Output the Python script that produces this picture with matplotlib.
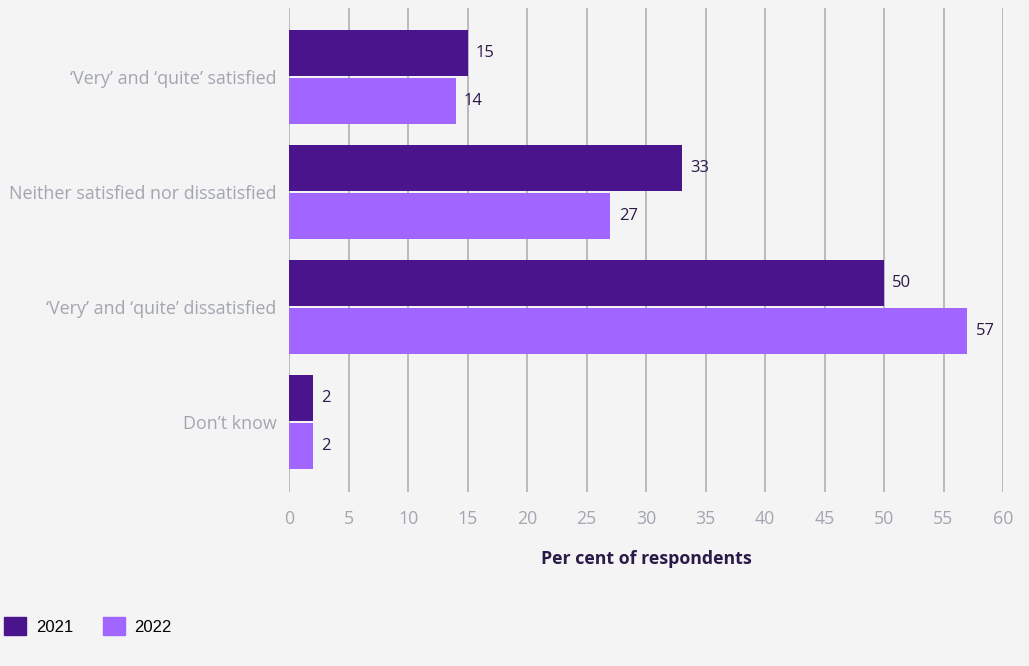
import matplotlib
matplotlib.use("Agg")
import matplotlib.pyplot as plt
import numpy as np
from matplotlib.patches import Patch

categories = ["\u2018Very\u2019 and \u2018quite\u2019 satisfied",
              "Neither satisfied nor dissatisfied",
              "\u2018Very\u2019 and \u2018quite\u2019 dissatisfied",
              "Don\u2019t know"]
series_names = ["2021", "2022"]
values_2021 = [15, 33, 50, 2]
values_2022 = [14, 27, 57, 2]
x_ticks = list(range(0, 61, 5))

BG = "#f4f4f4"
C1 = "#4a148c"
C2 = "#a066ff"
GRID = "#aeb0b8"
TICK = "#a3a6b0"
DARK = "#2a1a48"

plt.rcParams['font.family'] = ['Open Sans', 'DejaVu Sans']

fig = plt.figure(figsize=(10.29, 6.66), dpi=100, facecolor=BG)
ax = fig.add_axes([289/1029, 1-492/666, (1003-289)/1029, (492-8)/666])
ax.set_facecolor(BG)

y = np.arange(len(categories))
h = 0.40
gap = 0.01
b1 = ax.barh(y - h/2 - gap, values_2021, height=h, color=C1, zorder=3)
b2 = ax.barh(y + h/2 + gap, values_2022, height=h, color=C2, zorder=3)

for bars, vals in ((b1, values_2021), (b2, values_2022)):
    for bar, v in zip(bars, vals):
        ax.annotate(str(v), (bar.get_width(), bar.get_y() + bar.get_height()/2),
                    xytext=(6, 0), textcoords="offset points", va="center", ha="left",
                    fontsize=12, color=DARK, zorder=4)

ax.set_xlim(0, 60)
ax.set_ylim(3.61, -0.6)
ax.set_xticks(x_ticks)
ax.set_xticklabels([str(t) for t in x_ticks])
ax.set_yticks(y)
ax.set_yticklabels(categories)
ax.grid(axis="x", color=GRID, linewidth=1.2, zorder=0)
ax.grid(axis="y", visible=False)
for s in ax.spines.values():
    s.set_visible(False)
ax.tick_params(axis="x", length=0, pad=13, labelsize=12.8, labelcolor=TICK)
ax.tick_params(axis="y", length=0, pad=9, labelsize=12.9, labelcolor=TICK)
ax.set_xlabel("Per cent of respondents", fontsize=12.8, fontweight="bold", color=DARK, labelpad=16)

handles = [Patch(facecolor=C1, edgecolor=C1), Patch(facecolor=C2, edgecolor=C2)]
fig.legend(handles, series_names, loc="center left", bbox_to_anchor=(4/1029, 1-626/666),
           ncol=2, frameon=False, borderpad=0, borderaxespad=0,
           handlelength=1.3, handleheight=1.35, handletextpad=0.6,
           columnspacing=1.8, prop={'family': ['Liberation Sans', 'DejaVu Sans'], 'size': 12})

fig.savefig("out.png", dpi=100, facecolor=BG)
